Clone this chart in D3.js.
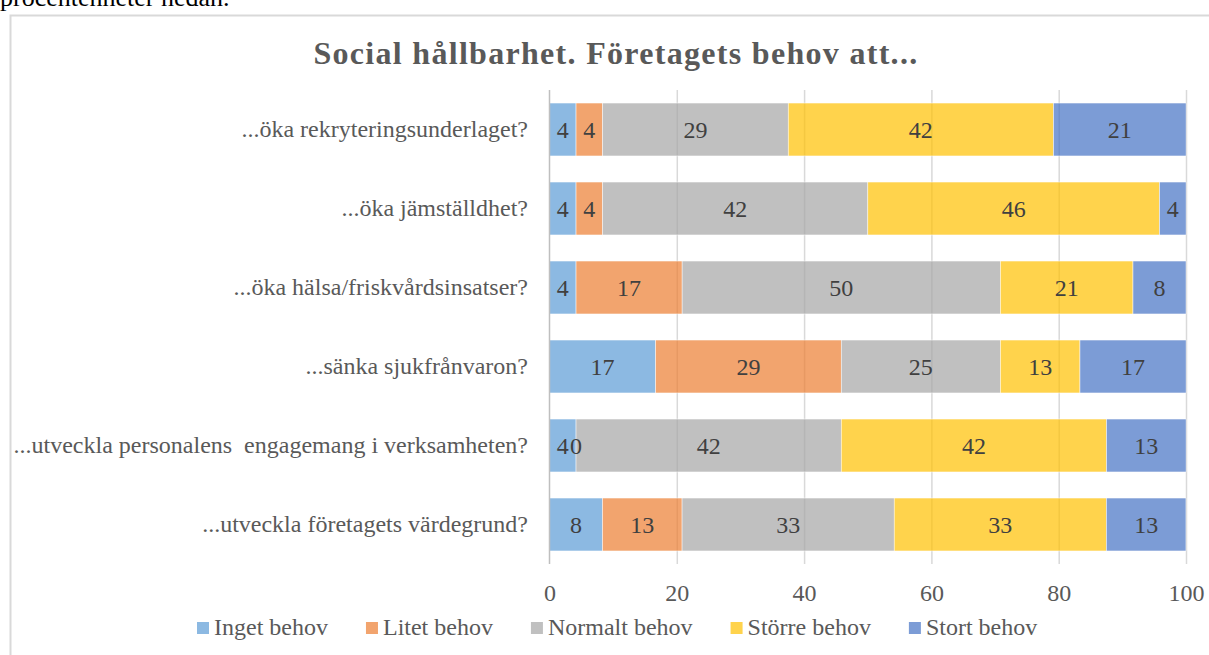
<!DOCTYPE html>
<html>
<head>
<meta charset="utf-8">
<script src="https://cdn.jsdelivr.net/npm/d3@7/dist/d3.min.js"></script>
<style>
  html, body { margin: 0; padding: 0; background: #fff; overflow: hidden; }
  svg { display: block; font-family: "Liberation Serif", "Times New Roman", serif; }
</style>
</head>
<body>
<svg id="chart" width="1209" height="655"></svg>
<script>
const categories = [
  "...öka rekryteringsunderlaget?",
  "...öka jämställdhet?",
  "...öka hälsa/friskvårdsinsatser?",
  "...sänka sjukfrånvaron?",
  "...utveckla personalens  engagemang i verksamheten?",
  "...utveckla företagets värdegrund?"
];
const seriesNames = ["Inget behov", "Litet behov", "Normalt behov", "Större behov", "Stort behov"];
const ingetBehov   = [4.17, 4.17, 4.17, 16.67, 4.17, 8.33];
const litetBehov   = [4.17, 4.17, 16.67, 29.17, 0, 12.5];
const normaltBehov = [29.17, 41.67, 50, 25, 41.67, 33.33];
const storreBehov  = [41.67, 45.83, 20.83, 12.5, 41.67, 33.33];
const stortBehov   = [20.83, 4.17, 8.33, 16.67, 12.5, 12.5];
const xTicks = [0, 20, 40, 60, 80, 100];
const titleText = "Social hållbarhet. Företagets behov att...";
const introText = "procentenheter nedan.";

const colors = ["#5B9BD5", "#ED7D31", "#A5A5A5", "#FFC000", "#4472C4"];
const seriesValues = [ingetBehov, litetBehov, normaltBehov, storreBehov, stortBehov];

const rows = categories.map((c, i) => {
  const r = { category: c };
  seriesNames.forEach((s, j) => r[s] = seriesValues[j][i]);
  return r;
});

const svg = d3.select("#chart");

// document text above chart
svg.append("text").attr("x", 0).attr("y", 6)
  .attr("font-size", 26).attr("fill", "#000").text(introText);

// chart frame
svg.append("rect").attr("x", 10.5).attr("y", 15.5).attr("width", 1400).attr("height", 800)
  .attr("fill", "#fff").attr("stroke", "#D9D9D9").attr("stroke-width", 2);

const x = d3.scaleLinear().domain([0, 100]).range([549.5, 1186]);
const y = d3.scaleBand().domain(categories).range([90, 564]).paddingInner(0.33).paddingOuter(0.165);

// title
svg.append("text").attr("x", 616).attr("y", 64).attr("text-anchor", "middle")
  .attr("font-size", 32).attr("font-weight", "bold").attr("letter-spacing", "1.3px")
  .attr("fill", "#595959").text(titleText);

// gridlines
const grid = svg.append("g").attr("transform", "translate(0,564)")
  .call(d3.axisBottom(x).tickValues(xTicks.filter(t => t > 0)).tickSize(-474).tickFormat(""));
grid.select(".domain").remove();
grid.selectAll("line").attr("stroke", "#D9D9D9").attr("stroke-width", 1.5);

// stacked bars
const stack = d3.stack().keys(seriesNames);
const stacked = stack(rows);
const layers = svg.append("g").selectAll("g").data(stacked).join("g")
  .attr("fill", (d, i) => colors[i]).attr("fill-opacity", 0.7);
layers.selectAll("rect").data(d => d).join("rect")
  .attr("x", d => x(d[0]))
  .attr("y", d => y(d.data.category))
  .attr("width", d => Math.max(0, x(d[1]) - x(d[0])))
  .attr("height", y.bandwidth())
  .attr("stroke", "#fff").attr("stroke-width", 0.6).attr("stroke-opacity", 0.8);

// vertical axis line at 0
svg.append("line").attr("x1", x(0)).attr("x2", x(0)).attr("y1", 90).attr("y2", 564)
  .attr("stroke", "#BFBFBF").attr("stroke-width", 1.5);

// data labels
stacked.forEach((layer) => {
  const key = layer.key;
  svg.append("g").selectAll("text").data(layer).join("text")
    .attr("x", d => (x(d[0]) + x(d[1])) / 2)
    .attr("y", d => y(d.data.category) + y.bandwidth() / 2)
    .attr("dy", "0.35em").attr("text-anchor", "middle")
    .attr("font-size", 24).attr("fill", "#404040")
    .text(d => String(Math.round(d.data[key])));
});

// x axis labels
const xAxis = svg.append("g").attr("transform", "translate(0,564)")
  .call(d3.axisBottom(x).tickValues(xTicks).tickSize(0).tickPadding(20).tickFormat(d3.format("d")));
xAxis.select(".domain").remove();
xAxis.selectAll("text").attr("font-size", 24).attr("fill", "#595959")
  .attr("font-family", "Liberation Serif, Times New Roman, serif");

// y axis labels
const yAxis = svg.append("g").attr("transform", "translate(549,0)")
  .call(d3.axisLeft(y).tickSize(0).tickPadding(21));
yAxis.select(".domain").remove();
yAxis.selectAll("text").attr("font-size", 24).attr("fill", "#595959")
  .attr("font-family", "Liberation Serif, Times New Roman, serif")
  .style("white-space", "pre");

// legend
const legend = svg.append("g");
let lx = 197;
seriesNames.forEach((s, i) => {
  legend.append("rect").attr("x", lx).attr("y", 622).attr("width", 12).attr("height", 12)
    .attr("fill", colors[i]).attr("fill-opacity", 0.7);
  const t = legend.append("text").attr("x", lx + 17).attr("y", 635)
    .attr("font-size", 24).attr("fill", "#595959").text(s);
  lx += 17 + t.node().getComputedTextLength() + 38;
});
</script>
</body>
</html>
